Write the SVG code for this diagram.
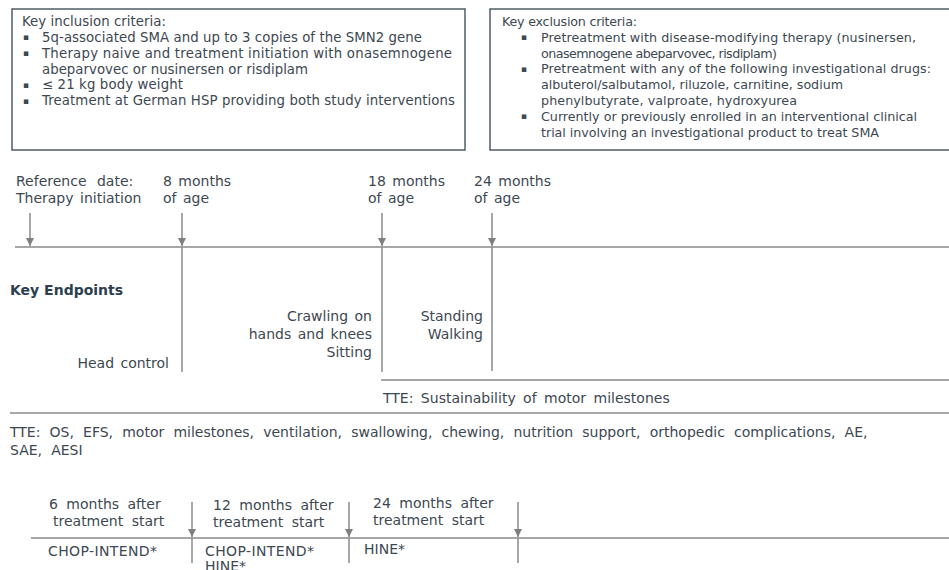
<svg xmlns="http://www.w3.org/2000/svg" width="949" height="570" viewBox="0 0 949 570">
  <defs>
    <marker id="tip" markerUnits="userSpaceOnUse" markerWidth="10" markerHeight="10" refX="9" refY="5" orient="auto" viewBox="0 0 10 10">
      <path d="M1,1 L9,5 L1,9 Z" fill="#7f7f7f"/>
    </marker>
    <style>
      text { font-family: "DejaVu Sans", Verdana, sans-serif; fill: #3d4852; }
      .box { fill: #ffffff; stroke: #4e5c66; stroke-width: 1.5; }
      .crit { font-size: 13.3px; }
      .crit2 { font-size: 12.7px; }
      .dot { font-size: 9px; }
      .lbl { font-size: 14px; word-spacing: 2px; }
      .vis { font-size: 14px; word-spacing: 4px; }
      .end { font-size: 14px; word-spacing: 2px; text-anchor: end; }
      .head { font-size: 14px; font-weight: bold; fill: #2c3e50; }
      .rule { stroke: #8a8a8a; stroke-width: 1.5; fill: none; }
      .arrow { stroke: #8a8a8a; stroke-width: 1.5; fill: none; marker-end: url(#tip); }
    </style>
  </defs>

  <rect width="949" height="570" fill="#ffffff"/>

  <!-- inclusion criteria -->
  <g id="inclusion">
    <rect class="box" x="12" y="9" width="453" height="141"/>
    <text class="crit" x="22" y="26" textLength="144" lengthAdjust="spacing">Key inclusion criteria:</text>
    <text class="dot" x="23" y="40">▪</text>
    <text class="crit" x="42" y="41.5" textLength="380" lengthAdjust="spacing">5q-associated SMA and up to 3 copies of the SMN2 gene</text>
    <text class="dot" x="23" y="56">▪</text>
    <text class="crit" x="42" y="57.5" textLength="410" lengthAdjust="spacing">Therapy naive and treatment initiation with onasemnogene</text>
    <text class="crit" x="42" y="73.5" textLength="266" lengthAdjust="spacing">abeparvovec or nusinersen or risdiplam</text>
    <text class="dot" x="23" y="87.5">▪</text>
    <text class="crit" x="42" y="89" textLength="141" lengthAdjust="spacing">≤ 21 kg body weight</text>
    <text class="dot" x="23" y="103.5">▪</text>
    <text class="crit" x="42" y="105" textLength="413" lengthAdjust="spacing">Treatment at German HSP providing both study interventions</text>
  </g>

  <!-- exclusion criteria -->
  <g id="exclusion">
    <rect class="box" x="490" y="9" width="470" height="141"/>
    <text class="crit2" x="502" y="26" textLength="135" lengthAdjust="spacing">Key exclusion criteria:</text>
    <text class="dot" x="521" y="40">▪</text>
    <text class="crit2" x="541" y="41.5" textLength="375" lengthAdjust="spacing">Pretreatment with disease-modifying therapy (nusinersen,</text>
    <text class="crit2" x="541" y="57.5" textLength="236" lengthAdjust="spacing">onasemnogene abeparvovec, risdiplam)</text>
    <text class="dot" x="521" y="71.5">▪</text>
    <text class="crit2" x="541" y="73" textLength="390" lengthAdjust="spacing">Pretreatment with any of the following investigational drugs:</text>
    <text class="crit2" x="541" y="89" textLength="302" lengthAdjust="spacing">albuterol/salbutamol, riluzole, carnitine, sodium</text>
    <text class="crit2" x="541" y="105" textLength="256" lengthAdjust="spacing">phenylbutyrate, valproate, hydroxyurea</text>
    <text class="dot" x="521" y="119">▪</text>
    <text class="crit2" x="541" y="120.5" textLength="376" lengthAdjust="spacing">Currently or previously enrolled in an interventional clinical</text>
    <text class="crit2" x="541" y="136.5" textLength="338" lengthAdjust="spacing">trial involving an investigational product to treat SMA</text>
  </g>

  <!-- timeline rules and arrows -->
  <g id="connectors">
    <line class="rule" x1="15" y1="247" x2="949" y2="247"/>
    <line class="arrow" x1="30" y1="213" x2="30" y2="246"/>
    <line class="arrow" x1="182" y1="213" x2="182" y2="246"/>
    <line class="arrow" x1="382" y1="213" x2="382" y2="246"/>
    <line class="arrow" x1="492" y1="213" x2="492" y2="246"/>
    <line class="rule" x1="182" y1="247" x2="182" y2="372"/>
    <line class="rule" x1="382" y1="247" x2="382" y2="372"/>
    <line class="rule" x1="492" y1="247" x2="492" y2="371"/>
    <line class="rule" x1="381" y1="380" x2="949" y2="380"/>
    <line class="rule" x1="10" y1="413" x2="949" y2="413"/>
    <!-- assessment timeline -->
    <line class="rule" x1="31" y1="538" x2="949" y2="538"/>
    <line class="arrow" x1="192" y1="502" x2="192" y2="537"/>
    <line class="arrow" x1="349" y1="502" x2="349" y2="537"/>
    <line class="arrow" x1="518" y1="502" x2="518" y2="537"/>
    <line class="rule" x1="192" y1="538" x2="192" y2="563"/>
    <line class="rule" x1="349" y1="538" x2="349" y2="563"/>
    <line class="rule" x1="518" y1="538" x2="518" y2="563"/>
  </g>

  <g id="ref-date">
    <text class="lbl" x="16" y="186" style="word-spacing:6px">Reference date:</text>
    <text class="lbl" x="16" y="203">Therapy initiation</text>
  </g>
  <g id="age-8">
    <text class="lbl" x="163" y="186">8 months</text>
    <text class="lbl" x="163" y="203">of age</text>
  </g>
  <g id="age-18">
    <text class="lbl" x="368" y="186">18 months</text>
    <text class="lbl" x="368" y="203">of age</text>
  </g>
  <g id="age-24">
    <text class="lbl" x="474" y="186">24 months</text>
    <text class="lbl" x="474" y="203">of age</text>
  </g>

  <text class="head" x="10" y="295">Key Endpoints</text>

  <g id="milestone-8">
    <text class="end" x="169" y="368">Head control</text>
  </g>
  <g id="milestone-18">
    <text class="end" x="372" y="321">Crawling on</text>
    <text class="end" x="372" y="339">hands and knees</text>
    <text class="end" x="372" y="357">Sitting</text>
  </g>
  <g id="milestone-24">
    <text class="end" x="483" y="321">Standing</text>
    <text class="end" x="483" y="339">Walking</text>
  </g>

  <g id="tte-sustain">
    <text class="lbl" x="383" y="403" style="word-spacing:3px">TTE: Sustainability of motor milestones</text>
  </g>
  <g id="tte-all">
    <text class="lbl" x="10" y="437" style="word-spacing:4.7px">TTE: OS, EFS, motor milestones, ventilation, swallowing, chewing, nutrition support, orthopedic complications, AE,</text>
    <text class="lbl" x="10" y="455" style="word-spacing:4.7px">SAE, AESI</text>
  </g>

  <g id="visit-6">
    <text class="vis" x="49" y="509">6 months after</text>
    <text class="vis" x="53" y="526">treatment start</text>
    <text class="vis" x="48" y="556" textLength="109" lengthAdjust="spacing">CHOP-INTEND*</text>
  </g>
  <g id="visit-12">
    <text class="vis" x="213" y="510">12 months after</text>
    <text class="vis" x="213" y="527">treatment start</text>
    <text class="vis" x="205" y="556" textLength="109" lengthAdjust="spacing">CHOP-INTEND*</text>
    <text class="vis" x="205" y="571">HINE*</text>
  </g>
  <g id="visit-24">
    <text class="vis" x="373" y="508">24 months after</text>
    <text class="vis" x="373" y="525">treatment start</text>
    <text class="vis" x="364" y="554">HINE*</text>
  </g>
</svg>
